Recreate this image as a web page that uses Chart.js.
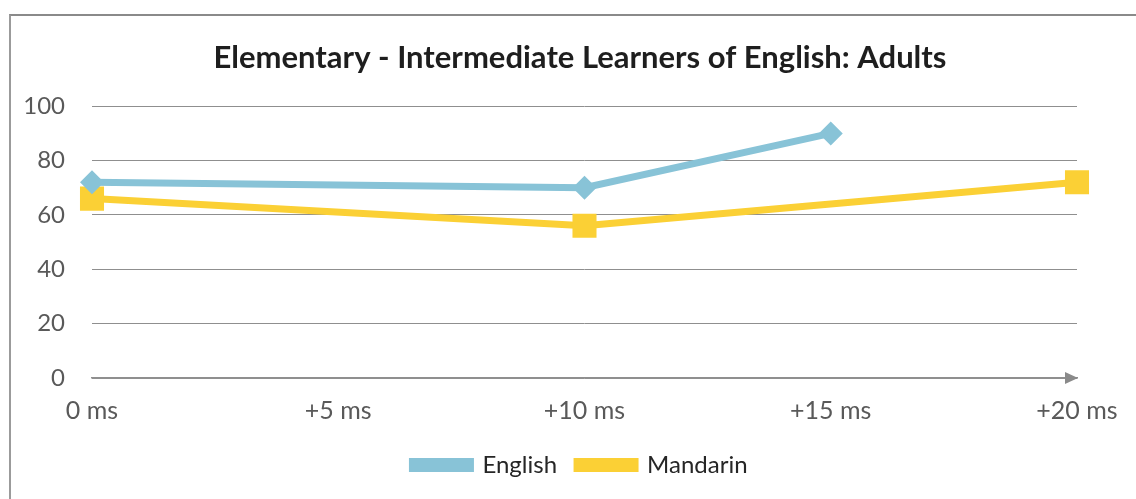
<!DOCTYPE html>
<html>
<head>
<meta charset="utf-8">
<script src="https://cdn.jsdelivr.net/npm/chart.js@4"></script>
<style>
  body { margin: 0; background: #fff; }
  #wrap { position: relative; width: 1136px; height: 499px; overflow: hidden; }
  #frame { position: absolute; left: 9px; top: 14px; right: -5px; bottom: -5px;
           border-left: 2px solid #9b9b9b; border-top: 2px solid #8a8a8a; }
  canvas { position: absolute; left: 0; top: 0; }
</style>
</head>
<body>
<div id="wrap">
  <div id="frame"></div>
  <canvas id="lineChart" width="1136" height="499"></canvas>
</div>
<script>
const categories = ['0 ms', '+5 ms', '+10 ms', '+15 ms', '+20 ms'];
const englishValues = [72, null, 70, 90, null];
const mandarinValues = [66, null, 56, null, 72];
const yTicks = [0, 20, 40, 60, 80, 100];

const fontFamily = "Lato, 'Open Sans', sans-serif";
const labelColor = '#595959';
const gridColor = '#8f8f8f';

// arrow head at the end of the category axis
const axisArrow = {
    id: 'axisArrow',
    afterDraw(chart) {
        const { ctx, chartArea } = chart;
        const y = chart.scales.y.getPixelForValue(0);
        const x = chartArea.right + 1;
        ctx.save();
        ctx.fillStyle = '#8a8a8a';
        ctx.beginPath();
        ctx.moveTo(x, y);
        ctx.lineTo(x - 13, y - 6);
        ctx.lineTo(x - 13, y + 6);
        ctx.closePath();
        ctx.fill();
        ctx.restore();
    }
};

new Chart(document.getElementById('lineChart'), {
    type: 'line',
    data: {
        labels: categories,
        datasets: [
            {
                label: 'English',
                data: englishValues,
                borderColor: '#88c3d7',
                backgroundColor: '#88c3d7',
                borderWidth: 7,
                pointStyle: 'rectRot',
                pointRadius: 12,
                pointBorderWidth: 0,
                spanGaps: true,
                tension: 0
            },
            {
                label: 'Mandarin',
                data: mandarinValues,
                borderColor: '#fbd035',
                backgroundColor: '#fbd035',
                borderWidth: 7,
                pointStyle: 'rect',
                pointRadius: 17,
                pointBorderWidth: 0,
                spanGaps: true,
                tension: 0
            }
        ]
    },
    options: {
        responsive: false,
        animation: false,
        layout: { padding: { left: 24, right: 0, top: 0, bottom: 12 } },
        scales: {
            x: {
                offset: false,
                grid: { display: false, drawTicks: false },
                border: { display: true, color: gridColor, width: 1.5 },
                ticks: { color: labelColor, padding: 18, maxRotation: 0, autoSkip: false,
                         font: { family: fontFamily, size: 25 } },
                afterFit: s => { s.height = 55; }
            },
            y: {
                min: 0,
                max: 100,
                afterBuildTicks: s => { s.ticks = yTicks.map(v => ({ value: v })); },
                grid: { color: gridColor, lineWidth: 1, drawTicks: false },
                border: { display: false },
                ticks: { color: labelColor, padding: 27,
                         font: { family: fontFamily, size: 24 } },
                afterFit: s => { s.width = 68; }
            },
            // empty spacer on the right so the title and legend sit centred like the original
            yRight: {
                position: 'right',
                min: 0,
                max: 100,
                grid: { display: false, drawTicks: false },
                border: { display: false },
                ticks: { display: false },
                afterFit: s => { s.width = 59; }
            }
        },
        plugins: {
            title: {
                display: true,
                text: 'Elementary - Intermediate Learners of English: Adults',
                color: '#1e1e1e',
                font: { family: fontFamily, size: 31, weight: 'bold', lineHeight: 1.2 },
                padding: { top: 39, bottom: 30 }
            },
            legend: {
                position: 'bottom',
                labels: {
                    color: '#262626',
                    font: { family: fontFamily, size: 24 },
                    boxWidth: 58,
                    boxHeight: 7,
                    padding: 20
                }
            },
            tooltip: { enabled: false }
        }
    },
    plugins: [axisArrow]
});
</script>
</body>
</html>
